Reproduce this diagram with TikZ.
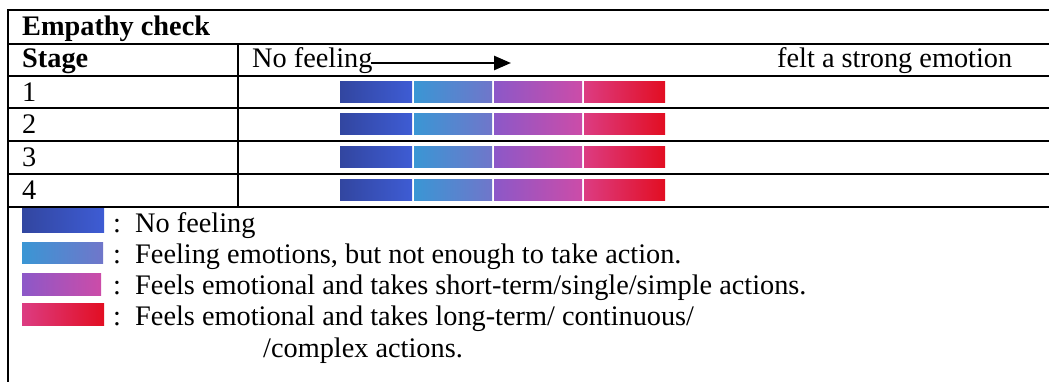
\documentclass[tikz,border=0pt]{standalone}
\usepackage{fontspec}
\setmainfont{Liberation Serif}
\usetikzlibrary{arrows.meta}

\definecolor{blueA}{RGB}{50,70,160}
\definecolor{blueB}{RGB}{62,92,212}
\definecolor{skyA}{RGB}{58,150,212}
\definecolor{skyB}{RGB}{112,118,202}
\definecolor{purA}{RGB}{140,88,200}
\definecolor{purB}{RGB}{204,76,168}
\definecolor{redA}{RGB}{220,60,130}
\definecolor{redB}{RGB}{226,14,34}

\begin{document}
\begin{tikzpicture}[x=1pt, y=-1pt,
    txt/.style={anchor=base west, inner sep=0pt, font=\fontsize{28.3}{32}\selectfont},
    outer/.style={line width=2.8pt},
    inner/.style={line width=2.2pt},
    segA/.style={left color=blueA, right color=blueB},
    segB/.style={left color=skyA, right color=skyB},
    segC/.style={left color=purA, right color=purB},
    segD/.style={left color=redA, right color=redB}]
    \useasboundingbox (0,0) rectangle (1049,382);

    % table frame
    \draw[outer] (1049,10) -- (8,10) -- (8,382);
    \draw[inner] (8,44) -- (1049,44);
    \draw[inner] (8,76) -- (1049,76);
    \draw[inner] (8,108) -- (1049,108);
    \draw[inner] (8,141) -- (1049,141);
    \draw[inner] (8,174) -- (1049,174);
    \draw[outer] (8,207) -- (1049,207);
    \draw[inner] (238,44) -- (238,207);

    % header
    \node[txt, font=\fontsize{28.3}{32}\selectfont\bfseries] (title) at (22,36) {Empathy check};
    \node[txt, font=\fontsize{28.3}{32}\selectfont\bfseries] (stage) at (22,68) {Stage};
    \node[txt] (nofeel) at (252,68) {No feeling};
    \node[txt] (strong) at (777,68) {felt a strong emotion};
    \coordinate (aend) at (511,63);
    \draw[line width=2.6pt, -{Triangle[length=17pt,width=14pt]}]
        ([xshift=-2pt]nofeel.base east |- aend) -- (aend);

    % stages
    \node[txt] (r1) at (22,102) {1};
    \node[txt] (r2) at (22,134) {2};
    \node[txt] (r3) at (22,167) {3};
    \node[txt] (r4) at (22,200) {4};

    \fill[segA] (340,82) rectangle (412,103);
    \fill[segB] (414,82) rectangle (492,103);
    \fill[segC] (494,82) rectangle (582,103);
    \fill[segD] (584,82) rectangle (665,103);

    \fill[segA] (340,114) rectangle (412,135);
    \fill[segB] (414,114) rectangle (492,135);
    \fill[segC] (494,114) rectangle (582,135);
    \fill[segD] (584,114) rectangle (665,135);

    \fill[segA] (340,147) rectangle (412,168);
    \fill[segB] (414,147) rectangle (492,168);
    \fill[segC] (494,147) rectangle (582,168);
    \fill[segD] (584,147) rectangle (665,168);

    \fill[segA] (340,180) rectangle (412,201);
    \fill[segB] (414,180) rectangle (492,201);
    \fill[segC] (494,180) rectangle (582,201);
    \fill[segD] (584,180) rectangle (665,201);

    % legend
    \fill[segA] (22,209) rectangle (104,232);
    \fill[segB] (22,242) rectangle (103,263);
    \fill[segC] (22,273) rectangle (101,295);
    \fill[segD] (22,303) rectangle (104,325);

    \node[txt] (l1) at (113,233) {:\ \ No feeling};
    \node[txt] (l2) at (113,263) {:\ \ Feeling emotions, but not enough to take action.};
    \node[txt] (l3) at (113,294) {:\ \ Feels emotional and takes short-term/single/simple actions.};
    \node[txt] (l4) at (113,325) {:\ \ Feels emotional and takes long-term/ continuous/};
    \node[txt] (l5) at (263,357) {/complex actions.};
\end{tikzpicture}
\end{document}
